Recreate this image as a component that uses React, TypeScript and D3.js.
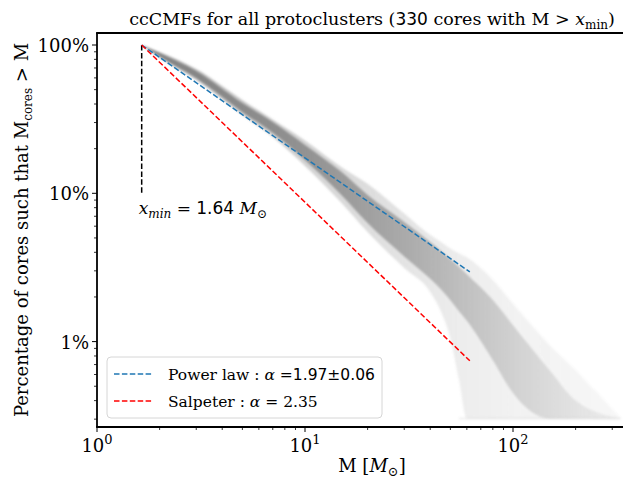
import React from 'react';
import * as d3 from 'd3';

// Mass grid (M_sun) and percentile curves (% of cores with M_cores > M) of the bootstrapped ccCMFs
const massGrid = [1.64, 2, 3, 5, 7, 10, 15, 20, 30, 40, 45, 50, 55, 60, 80, 100, 150, 200, 330];
const envelopeHigh = [100, 89.7, 68.9, 42.6, 31.4, 22.7, 15.0, 11.6, 7.3, 5.23, 4.7, 4.25, 3.95, 3.7, 2.6, 1.8, 0.95, 0.64, 0.303];
const quartileHigh = [100, 88.3, 66.8, 40.6, 30.3, 21.2, 13.9, 9.74, 6.4, 4.69, 4.1, 3.6, 3.2, 2.85, 1.91, 1.29, 0.64, 0.4, 0.303];
const quartileLow = [100, 83.5, 59.8, 35.4, 25.6, 16.8, 9.7, 6.3, 3.75, 2.65, 2.25, 1.9, 1.6, 1.38, 0.75, 0.45, 0.303, 0.303, 0.303];
const envelopeLow = [100, 82.0, 58.0, 33.7, 24.0, 15.3, 8.6, 5.48, 3.13, 2.16, 1.6, 1.05, 0.55, 0.303, 0.303, 0.303, 0.303, 0.303, 0.303];

// Fit parameters
const nCores = 330;
const xMin = 1.64;
const alphaPowerLaw = 1.97;
const alphaPowerLawErr = 0.06;
const alphaSalpeter = 2.35;
const fitEndMass = 62;

const yTickValues = [100, 10, 1];
const yTickLabels = ['100%', '10%', '1%'];
const xTickValues = [1, 10, 100];
const xTickExponents = ['0', '1', '2'];

const W = 623;
const H = 480;
const left = 97;
const right = 647;
const top = 33;
const bottom = 427;

const serif = '"DejaVu Serif", serif';
const sans = '"DejaVu Sans", sans-serif';

export default function App() {
  const x = d3.scaleLog().domain([1, Math.pow(10, (right - left) / 208)]).range([left, right]);
  const y = d3.scaleLog().domain([Math.pow(10, 2 - (bottom - 45) / 148.3), Math.pow(10, 2 + (45 - top) / 148.3)]).range([bottom, top]);

  const idx = massGrid.map((_, i) => i);
  const band = (lo: number[], hi: number[]) =>
    d3.area<number>()
      .x((i) => x(massGrid[i]))
      .y0((i) => y(lo[i]))
      .y1((i) => y(hi[i]))
      .curve(d3.curveMonotoneX)(idx) || '';

  const fit = (alpha: number) => {
    const pts = [xMin, fitEndMass].map((m) => [x(m), y(100 * Math.pow(m / xMin, 1 - alpha))] as [number, number]);
    return d3.line()(pts) || '';
  };

  const [yLo, yHi] = y.domain();
  const yMinor: number[] = [];
  for (let e = -1; e <= 2; e++) {
    for (let k = 2; k <= 9; k++) {
      const v = k * Math.pow(10, e);
      if (v >= yLo && v <= yHi) yMinor.push(v);
    }
  }
  const [, xHi] = x.domain();
  const xMinor: number[] = [];
  for (let e = 0; e <= 2; e++) {
    for (let k = 2; k <= 9; k++) {
      const v = k * Math.pow(10, e);
      if (v <= xHi && x(v) <= W) xMinor.push(v);
    }
  }

  const stops = (vals: [number, number][]) =>
    vals.map(([px, op], i) => (
      <stop key={i} offset={(px - left) / (W - left)} stopColor="#7f7f7f" stopOpacity={op} />
    ));

  const floorY = y(envelopeLow[envelopeLow.length - 1]);

  return (
    <svg width={W} height={H} style={{ position: 'absolute', left: 0, top: 0, background: '#fff' }}>
      <defs>
        <clipPath id="plotArea">
          <rect x={left} y={top} width={right - left} height={bottom - top} />
        </clipPath>
        <filter id="soft" x="-5%" y="-5%" width="110%" height="110%">
          <feGaussianBlur stdDeviation="0.9" />
        </filter>
        <linearGradient id="outerFade" gradientUnits="userSpaceOnUse" x1={left} x2={W} y1={0} y2={0}>
          {stops([[140, 0.55], [300, 0.35], [400, 0.22], [460, 0.14], [520, 0.1], [623, 0.06]])}
        </linearGradient>
        <linearGradient id="innerFade" gradientUnits="userSpaceOnUse" x1={left} x2={W} y1={0} y2={0}>
          {stops([[140, 0.95], [300, 0.78], [400, 0.58], [460, 0.42], [520, 0.27], [580, 0.15], [623, 0.08]])}
        </linearGradient>
      </defs>

      <g clipPath="url(#plotArea)">
        <g filter="url(#soft)">
          <path d={band(envelopeLow, envelopeHigh)} fill="url(#outerFade)" />
          <path d={band(quartileLow, quartileHigh)} fill="url(#innerFade)" />
          <line x1={x(55)} x2={x(330)} y1={floorY} y2={floorY} stroke="#7f7f7f" strokeOpacity={0.12} strokeWidth={2} />
        </g>

        <line x1={x(xMin)} x2={x(xMin)} y1={y(100)} y2={y(10)} stroke="#000" strokeWidth={1.5} strokeDasharray="5.5 2.4" />
        <path d={fit(alphaPowerLaw)} fill="none" stroke="#1f77b4" strokeWidth={1.5} strokeDasharray="5.5 2.4" />
        <path d={fit(alphaSalpeter)} fill="none" stroke="#ff0000" strokeWidth={1.5} strokeDasharray="5.5 2.4" />
      </g>

      {/* x_min annotation */}
      <text x={x(xMin) - 3} y={214} fontFamily={serif} fontSize={17}>
        <tspan fontStyle="italic">x</tspan>
        <tspan fontStyle="italic" fontSize={12} dy={4}>min</tspan>
        <tspan dy={-4}> = </tspan>
        <tspan fontFamily={sans} fontSize={17}>{xMin.toFixed(2)}</tspan>
        <tspan fontStyle="italic"> M</tspan>
        <tspan fontSize={12} dy={4}>⊙</tspan>
      </text>

      {/* legend */}
      <g>
        <rect x={107} y={357} width={275} height={61} rx={4} fill="#fff" fillOpacity={0.8} stroke="#d6d6d6" strokeWidth={1} />
        <line x1={114} x2={152} y1={374} y2={374} stroke="#1f77b4" strokeWidth={1.5} strokeDasharray="5.5 2.4" />
        <line x1={114} x2={152} y1={401} y2={401} stroke="#ff0000" strokeWidth={1.5} strokeDasharray="5.5 2.4" />
        <text x={168} y={380} fontFamily={serif} fontSize={15.5}>
          <tspan>Power law :  </tspan>
          <tspan fontStyle="italic">α</tspan>
          <tspan> =</tspan>
          <tspan fontFamily={sans} fontSize={15.5}>{alphaPowerLaw.toFixed(2)}±{alphaPowerLawErr.toFixed(2)}</tspan>
        </text>
        <text x={168} y={407} fontFamily={serif} fontSize={15.5}>
          <tspan>Salpeter :  </tspan>
          <tspan fontStyle="italic">α</tspan>
          <tspan> = {alphaSalpeter.toFixed(2)}</tspan>
        </text>
      </g>

      {/* y ticks */}
      {yMinor.map((v, i) => (
        <line key={'ym' + i} x1={left - 3} x2={left} y1={y(v)} y2={y(v)} stroke="#000" strokeWidth={0.8} />
      ))}
      {yTickValues.map((v, i) => (
        <g key={'yt' + i}>
          <line x1={left - 5} x2={left} y1={y(v)} y2={y(v)} stroke="#000" strokeWidth={1} />
          <text x={left - 8} y={y(v) + 7} textAnchor="end" fontFamily={serif} fontSize={18}>{yTickLabels[i]}</text>
        </g>
      ))}

      {/* x ticks */}
      {xMinor.map((v, i) => (
        <line key={'xm' + i} x1={x(v)} x2={x(v)} y1={bottom} y2={bottom + 3} stroke="#000" strokeWidth={0.8} />
      ))}
      {xTickValues.map((v, i) => (
        <g key={'xt' + i}>
          <line x1={x(v)} x2={x(v)} y1={bottom} y2={bottom + 5} stroke="#000" strokeWidth={1} />
          <text x={x(v)} y={452} textAnchor="middle" fontFamily={serif} fontSize={18}>
            <tspan>10</tspan>
            <tspan fontSize={13} dy={-8}>{xTickExponents[i]}</tspan>
          </text>
        </g>
      ))}

      {/* spines */}
      <line x1={left} x2={left} y1={top} y2={bottom} stroke="#000" strokeWidth={1.8} />
      <line x1={left - 0.9} x2={W} y1={bottom} y2={bottom} stroke="#000" strokeWidth={1.8} />
      <line x1={left - 0.9} x2={W} y1={top} y2={top} stroke="#000" strokeWidth={1.8} />

      {/* axis labels */}
      <text x={(left + right) / 2} y={472} textAnchor="middle" fontFamily={serif} fontSize={18}>
        <tspan>M [</tspan>
        <tspan fontStyle="italic">M</tspan>
        <tspan fontSize={13} dy={4}>⊙</tspan>
        <tspan dy={-4}>]</tspan>
      </text>
      <text transform={`translate(28, ${(top + bottom) / 2}) rotate(-90)`} textAnchor="middle" fontFamily={serif} fontSize={18}>
        <tspan>Percentage of cores such that M</tspan>
        <tspan fontSize={12} dy={4}>cores</tspan>
        <tspan dy={-4}> &gt; M</tspan>
      </text>

      {/* title */}
      <text x={(left + right) / 2} y={25} textAnchor="middle" fontFamily={serif} fontSize={17.5}>
        <tspan>ccCMFs for all protoclusters (</tspan>
        <tspan fontFamily={sans} fontSize={17}>{nCores}</tspan>
        <tspan> cores with M  &gt;  </tspan>
        <tspan fontStyle="italic">x</tspan>
        <tspan fontSize={12} dy={4}>min</tspan>
        <tspan dy={-4}>)</tspan>
      </text>
    </svg>
  );
}
